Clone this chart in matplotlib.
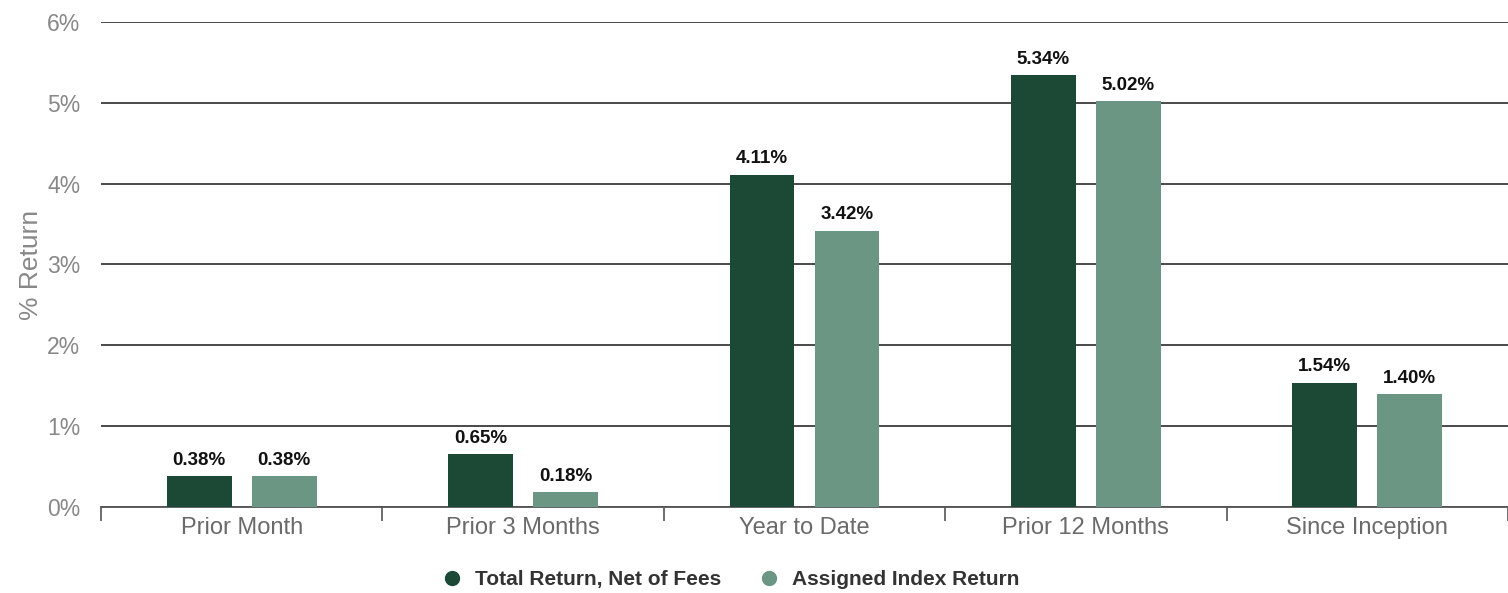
import numpy as np
import matplotlib.pyplot as plt

plt.rcParams['font.family'] = ['Liberation Sans', 'DejaVu Sans']

# Data
categories = ['Prior Month', 'Prior 3 Months', 'Year to Date', 'Prior 12 Months', 'Since Inception']
total_return = [0.38, 0.65, 4.11, 5.34, 1.54]
index_return = [0.38, 0.18, 3.42, 5.02, 1.40]
series_names = ['Total Return, Net of Fees', 'Assigned Index Return']
yticks = [0, 1, 2, 3, 4, 5, 6]

dark = '#1b4935'
light = '#6c9684'

fig = plt.figure(figsize=(15.08, 5.93), dpi=100)
ax = fig.add_axes([0.067, 0.145, 0.933, 0.818])

x = np.arange(len(categories))
w = 0.23
off = 0.151

b1 = ax.bar(x - off, total_return, w, color=dark, zorder=3, label=series_names[0])
b2 = ax.bar(x + off, index_return, w, color=light, zorder=3, label=series_names[1])

for bars, vals in ((b1, total_return), (b2, index_return)):
    for b, v in zip(bars, vals):
        ax.text(b.get_x() + b.get_width() / 2, v + 0.09, f'{v:.2f}%',
                ha='center', va='bottom', fontsize=13.5, fontweight='bold', color='#111111')

ax.set_xlim(-0.5, len(categories) - 0.5)
ax.set_ylim(0, 6)
ax.set_yticks(yticks)
ax.set_yticklabels([f'{t}%' for t in yticks], fontsize=16.5, color='#888888')
ax.set_xticks(x)
ax.set_xticklabels(categories, fontsize=17, color='#6a6a6a')
ax.set_xticks(np.arange(-0.5, len(categories)), minor=True)
ax.tick_params(axis='x', which='major', length=0, pad=7)
ax.tick_params(axis='x', which='minor', length=10, color='#555555', width=1.2)
ax.tick_params(axis='y', length=0, pad=15)

ax.grid(axis='y', color='#3a3a3a', linewidth=1.3, zorder=0)
for s in ['top', 'right', 'left']:
    ax.spines[s].set_visible(False)
ax.spines['bottom'].set_color('#555555')
ax.spines['bottom'].set_linewidth(1.3)

ax.set_ylabel('% Return', fontsize=19, color='#888888', labelpad=3)

handles = [plt.Line2D([], [], marker='o', linestyle='none', color=c, markersize=10)
           for c in (dark, light)]
leg = fig.legend(handles, series_names, loc='lower center', bbox_to_anchor=(0.481, -0.025),
                 ncol=2, frameon=False, handletextpad=0.1, columnspacing=1.3,
                 prop={'weight': 'bold', 'size': 15})
for t in leg.get_texts():
    t.set_color('#333333')

fig.savefig('out.png', dpi=100)
